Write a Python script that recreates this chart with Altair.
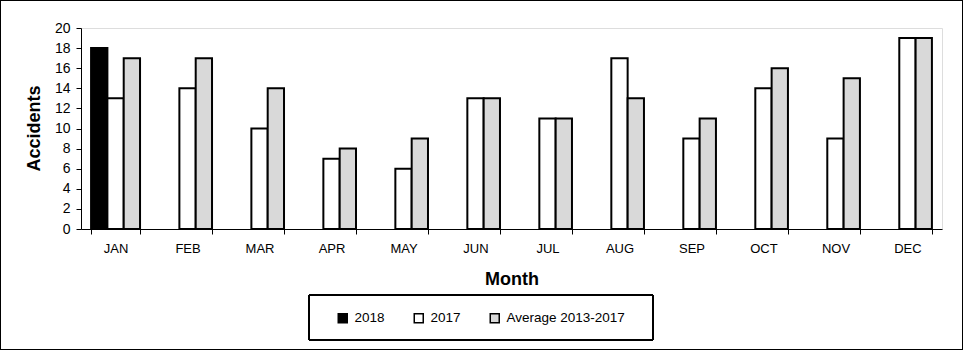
import altair as alt
import pandas as pd

months = ["JAN", "FEB", "MAR", "APR", "MAY", "JUN", "JUL", "AUG", "SEP", "OCT", "NOV", "DEC"]
series = ["2018", "2017", "Average 2013-2017"]
colors = ["#000000", "#ffffff", "#d9d9d9"]
v2018 = {"JAN": 18}
v2017 = [13, 14, 10, 7, 6, 13, 11, 17, 9, 14, 9, 19]
vavg = [17, 17, 14, 8, 9, 13, 11, 13, 11, 16, 15, 19]
y_ticks = list(range(0, 21, 2))

rows = []
for m, v in v2018.items():
    rows.append({"month": m, "series": "2018", "value": v})
for m, v in zip(months, v2017):
    rows.append({"month": m, "series": "2017", "value": v})
for m, v in zip(months, vavg):
    rows.append({"month": m, "series": "Average 2013-2017", "value": v})
df = pd.DataFrame(rows)

W, H = 861, 201
FONT = "Liberation Sans"

bars = alt.Chart(df).mark_bar(stroke="black", strokeWidth=2).encode(
    x=alt.X("month:N", sort=months,
            scale=alt.Scale(domain=months, paddingInner=0.32, paddingOuter=0.14),
            axis=alt.Axis(title="Month", labelAngle=0, labelFontSize=13, labelPadding=8,
                          tickBand="extent", tickSize=5, tickColor="black",
                          domainColor="black", labelColor="black",
                          titleFontSize=18, titleFontWeight="bold", titleColor="black",
                          titleY=55, titleBaseline="alphabetic")),
    xOffset=alt.XOffset("series:N", sort=series, scale=alt.Scale(domain=series, paddingInner=0, paddingOuter=0)),
    y=alt.Y("value:Q", scale=alt.Scale(domain=[0, 20], nice=False),
            axis=alt.Axis(title="Accidents", values=y_ticks, grid=False, labelFontSize=14,
                          labelPadding=6, tickSize=5, tickColor="black", domainColor="black",
                          labelColor="black", titleFontSize=18, titleFontWeight="bold",
                          titleColor="black", titleX=-38, titleY=100, titleAngle=270,
                          titleBaseline="bottom", titleAlign="center")),
    fill=alt.Fill("series:N", sort=series, scale=alt.Scale(domain=series, range=colors),
                  legend=alt.Legend(title=None, orient="none", direction="horizontal",
                                    legendX=255, legendY=283, symbolType="square",
                                    symbolSize=81, symbolStrokeColor="black",
                                    symbolStrokeWidth=1.5, labelFontSize=13.5, labelOffset=5,
                                    columnPadding=26, padding=0, labelColor="black")),
)

legend_box = alt.Chart(df).mark_rect(fill=None, stroke="black", strokeWidth=1).encode(
    x=alt.value(228), x2=alt.value(572), y=alt.value(267), y2=alt.value(312))

outer_box = alt.Chart(df).mark_rect(fill=None, stroke="black", strokeWidth=1).encode(
    x=alt.value(-80.5), x2=alt.value(881.5), y=alt.value(-27.5), y2=alt.value(321.5))

chart = alt.layer(bars, legend_box, outer_box).properties(
    width=W, height=H,
    padding={"left": 81, "top": 28, "right": 23, "bottom": 122},
    autosize=alt.AutoSizeParams(type="none"),
    background="white",
).configure_view(stroke=None).configure(font=FONT)

chart.save("out.html", embed_options={"renderer": "svg", "actions": False})
